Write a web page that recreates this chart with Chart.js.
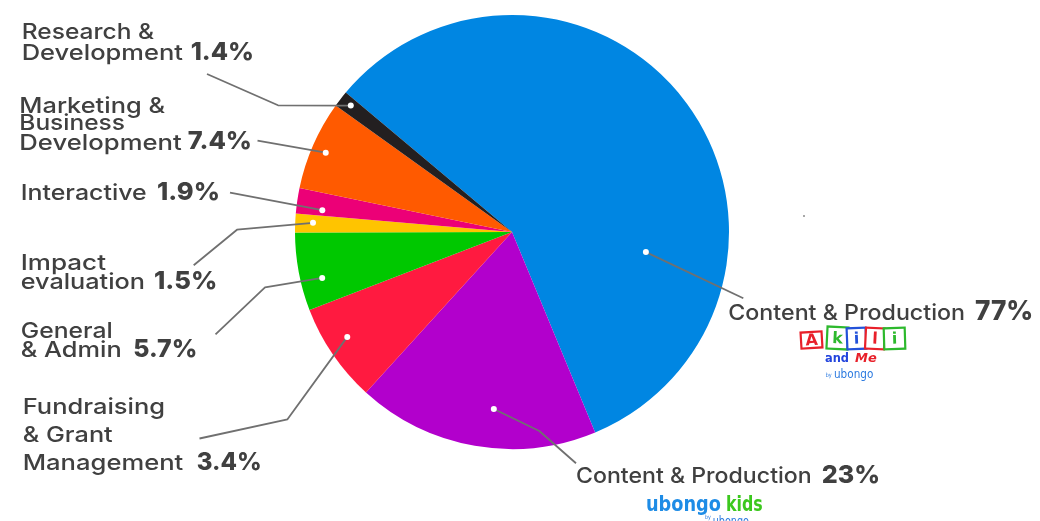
<!DOCTYPE html>
<html>
<head>
<meta charset="utf-8">
<script src="https://cdn.jsdelivr.net/npm/chart.js@4"></script>
<style>
  html, body { margin: 0; padding: 0; background: #fff; }
  #wrap { width: 1040px; height: 521px; }
</style>
</head>
<body>
<div id="wrap"><canvas id="c" width="1040" height="521"></canvas></div>
<script>
// ---- data ----
const categories = [
  'Content & Production (Akili and Me)',
  'Content & Production (Ubongo Kids)',
  'Fundraising & Grant Management',
  'General & Admin',
  'Impact evaluation',
  'Interactive',
  'Marketing & Business Development',
  'Research & Development'
];
const sliceValues = [57.6, 18.0, 7.4, 5.8, 1.4, 1.9, 6.65, 1.2];
const percentLabels = ['77%', '23%', '3.4%', '5.7%', '1.5%', '1.9%', '7.4%', '1.4%'];
const labelLines = [
  ['Content & Production'],
  ['Content & Production'],
  ['Fundraising', '& Grant', 'Management'],
  ['General', '& Admin'],
  ['Impact', 'evaluation'],
  ['Interactive'],
  ['Marketing &', 'Business', 'Development'],
  ['Research &', 'Development']
];
const sliceColors = ['#0086E2', '#B200CC', '#FF1A40', '#00C800', '#FFC400', '#EC0077', '#FF5A00', '#231F20'];

// ---- annotation layout (label placement, not data) ----
// dot: [fraction along slice angle, fraction of radius]; path: leader line points after the dot
// lines: [x, baseline, width] per text line; pct: [x, baseline, width, size]
const layout = [
  { dot: [0.716, 0.624], path: [[743.3, 298.3]],
    lines: [[728.3, 320, 236.7]], pct: [975, 320, 58.3, 27] },
  { dot: [0.438, 0.82], path: [[539.3, 431], [576, 463.3]],
    lines: [[576, 483.3, 235.7]], pct: [821.7, 483.3, 58.3, 25] },
  { dot: [0.571, 0.90], path: [[287.5, 419.3], [199.5, 438.5]],
    lines: [[22.7, 414.3, 142.3], [22.7, 441.7, 90], [22.7, 470, 160.6]], pct: [196.7, 470, 65, 24] },
  { dot: [0.356, 0.90], path: [[265, 287.3], [215.5, 334.3]],
    lines: [[20.7, 337.7, 92], [20.7, 356.7, 101]], pct: [133.3, 356.7, 64, 25] },
  { dot: [0.556, 0.918], path: [[237, 229.7], [193.7, 265.3]],
    lines: [[20.7, 270, 85.3], [20.7, 289, 124.3]], pct: [154, 289, 63.3, 25] },
  { dot: [0.244, 0.88], path: [[230, 192.7]],
    lines: [[20.7, 200, 126]], pct: [157, 200, 63, 25] },
  { dot: [0.474, 0.933], path: [[257.5, 140.7]],
    lines: [[19.3, 112.7, 145.7], [19.3, 130, 105.7], [19.3, 150, 162.4]], pct: [187.7, 149, 64.3, 25] },
  { dot: [0.56, 0.944], path: [[278, 105.3], [207, 74]],
    lines: [[21.7, 39.3, 132.3], [21.7, 60, 161.3]], pct: [190.7, 60, 63.3, 25] }
];

const TEXT_COLOR = '#404040';
const FONT_FAMILY = 'Inter, "Open Sans", sans-serif';

function fitText(ctx, text, x, y, w, font, color) {
  ctx.save();
  ctx.font = font;
  ctx.fillStyle = color;
  ctx.textBaseline = 'alphabetic';
  ctx.textAlign = 'left';
  const m = ctx.measureText(text).width;
  ctx.translate(x, y);
  ctx.scale(w / m, 1);
  ctx.fillText(text, 0, 0);
  ctx.restore();
}

const labelPlugin = {
  id: 'leaderLabels',
  afterDraw(chart) {
    const ctx = chart.ctx;
    const meta = chart.getDatasetMeta(0);
    const dots = [];
    // leader lines
    meta.data.forEach((arc, i) => {
      const L = layout[i];
      const p = arc.getProps(['x', 'y', 'startAngle', 'endAngle', 'outerRadius'], true);
      const a = p.startAngle + L.dot[0] * (p.endAngle - p.startAngle);
      const r = L.dot[1] * p.outerRadius;
      const dx = p.x + r * Math.cos(a), dy = p.y + r * Math.sin(a);
      dots.push([dx, dy]);
      ctx.save();
      ctx.strokeStyle = '#707070';
      ctx.lineWidth = 1.8;
      ctx.lineJoin = 'round';
      ctx.beginPath();
      ctx.moveTo(dx, dy);
      L.path.forEach(pt => ctx.lineTo(pt[0], pt[1]));
      ctx.stroke();
      ctx.restore();
    });
    // dots
    dots.forEach(d => {
      ctx.save();
      ctx.fillStyle = '#ffffff';
      ctx.beginPath();
      ctx.arc(d[0], d[1], 3, 0, Math.PI * 2);
      ctx.fill();
      ctx.restore();
    });
    // texts
    layout.forEach((L, i) => {
      labelLines[i].forEach((t, j) => {
        const ln = L.lines[j];
        fitText(ctx, t, ln[0], ln[1], ln[2], '500 22px ' + FONT_FAMILY, TEXT_COLOR);
      });
      const pc = L.pct;
      fitText(ctx, percentLabels[i], pc[0], pc[1], pc[2], '800 ' + pc[3] + 'px ' + FONT_FAMILY, TEXT_COLOR);
    });

    // stray grey dot
    ctx.save();
    ctx.fillStyle = '#a8a8a8';
    ctx.fillRect(803, 215, 2, 2);
    ctx.restore();

    // Akili and Me logo
    const boxes = [
      ['A', '#E8202A', 801, 332, 21, 16, -0.06],
      ['k', '#2DB92D', 827, 327, 21, 22, 0.05],
      ['i', '#2352D9', 847, 328, 19, 21, -0.04],
      ['l', '#E8202A', 865.5, 328, 19, 21, 0.05],
      ['i', '#2DB92D', 884, 328, 21, 21, -0.03]
    ];
    boxes.forEach(b => {
      ctx.save();
      ctx.translate(b[2] + b[4] / 2, b[3] + b[5] / 2);
      ctx.rotate(b[6]);
      ctx.fillStyle = '#ffffff';
      ctx.fillRect(-b[4] / 2, -b[5] / 2, b[4], b[5]);
      ctx.strokeStyle = b[1];
      ctx.lineWidth = 2.2;
      ctx.strokeRect(-b[4] / 2, -b[5] / 2, b[4], b[5]);
      ctx.fillStyle = b[1];
      ctx.font = '900 16px "DejaVu Sans", sans-serif';
      ctx.textAlign = 'center';
      ctx.textBaseline = 'middle';
      ctx.fillText(b[0], 0, 1);
      ctx.restore();
    });
    fitText(ctx, 'and', 825, 362.3, 24, '900 13px "DejaVu Sans", sans-serif', '#2244DD');
    fitText(ctx, 'Me', 855, 362.3, 21.7, 'italic 900 13px "DejaVu Sans", sans-serif', '#E8202A');
    fitText(ctx, 'by', 825.7, 377, 6, '500 6px "DejaVu Sans", sans-serif', '#2D7BE0');
    fitText(ctx, 'ubongo', 834, 378, 39.3, '500 13px "DejaVu Sans", sans-serif', '#2D7BE0');

    // ubongo kids logo
    fitText(ctx, 'ubongo', 646, 510.5, 75, '900 21px "DejaVu Sans", sans-serif', '#1E8CE6');
    fitText(ctx, 'kids', 726, 510.5, 36.7, '900 21px "DejaVu Sans", sans-serif', '#3CC81E');
    fitText(ctx, 'by', 705, 519, 6, '500 6px "DejaVu Sans", sans-serif', '#2D7BE0');
    fitText(ctx, 'ubongo', 712.7, 525, 36.3, '500 13px "DejaVu Sans", sans-serif', '#2D7BE0');
  }
};

new Chart(document.getElementById('c'), {
  type: 'pie',
  data: {
    labels: categories,
    datasets: [{
      data: sliceValues,
      backgroundColor: sliceColors,
      borderWidth: 0
    }]
  },
  options: {
    responsive: false,
    animation: false,
    rotation: -50,
    layout: { padding: { left: 295, right: 311, top: 15, bottom: 72 } },
    plugins: {
      legend: { display: false },
      tooltip: { enabled: false }
    }
  },
  plugins: [labelPlugin]
});
</script>
</body>
</html>
